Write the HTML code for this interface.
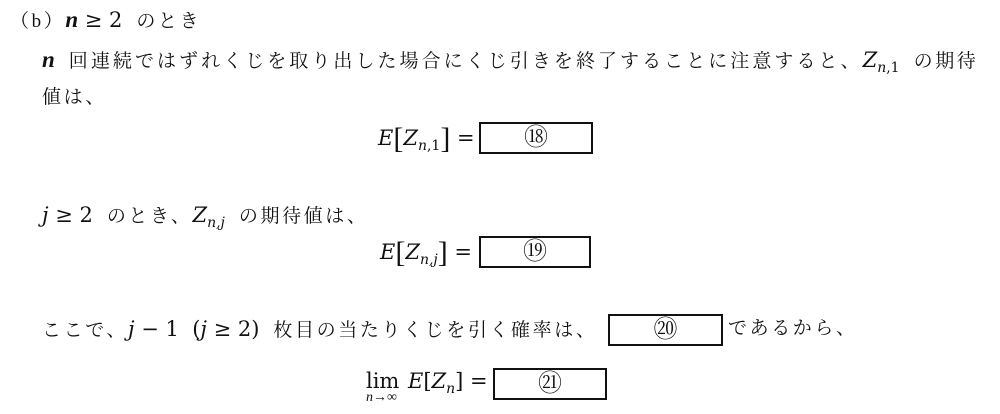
<!DOCTYPE html>
<html><head><meta charset="utf-8"><style>
body{margin:0;width:1000px;height:414px;background:#fff;position:relative;overflow:hidden;font-family:"Liberation Serif","Noto Serif CJK JP","Noto Serif CJK SC",serif;color:#111;font-size:19px;}
.t{position:absolute;white-space:nowrap;line-height:24px;}
.j{letter-spacing:2.6px;}
.m{font-size:21px;font-family:"DejaVu Serif","Liberation Serif",serif;}
.nb{font-family:"Liberation Serif",serif;font-size:23px;font-weight:bold;font-style:italic;}
i{font-style:italic;}
sub{font-size:14px;vertical-align:-5px;line-height:0;}
.s{display:inline-block;width:14px;}
.box{position:absolute;border:2px solid #111;box-sizing:border-box;text-align:center;font-size:24px;line-height:28px;font-family:"Liberation Serif","Noto Serif CJK JP",serif;}
.br{font-size:30px;vertical-align:-3px;font-family:"Liberation Serif",serif;}
</style></head><body>
<div class="t" style="left:10px;top:8px"><span class="j">（b）</span><span class="nb">n</span><span class="m"> ≥ 2</span><span class="s"></span><span class="j">のとき</span></div>
<div class="t" style="left:42px;top:48px"><span class="nb">n</span><span class="s"></span><span class="j" style="letter-spacing:3.05px">回連続ではずれくじを取り出した場合にくじ引きを終了することに注意すると、</span><span class="m"><i>Z</i><sub><i>n</i>,1</sub></span><span class="s"></span><span class="j">の期待</span></div>
<div class="t" style="left:42px;top:86px"><span class="j">値は、</span></div>
<div class="t m" style="left:378px;top:126px"><i>E</i><span class="br">[</span><i>Z</i><sub><i>n</i>,1</sub><span class="br">]</span> =</div>
<div class="box" style="left:479px;top:122px;width:114px;height:32px">⑱</div>
<div class="t" style="left:42px;top:203px"><span class="m"><i>j</i> ≥ 2</span><span class="s"></span><span class="j">のとき、</span><span class="m"><i>Z</i><sub><i>n,j</i></sub></span><span class="s"></span><span class="j">の期待値は、</span></div>
<div class="t m" style="left:380px;top:240px"><i>E</i><span class="br">[</span><i>Z</i><sub><i>n,j</i></sub><span class="br">]</span> =</div>
<div class="box" style="left:479px;top:236px;width:112px;height:32px">⑲</div>
<div class="t" style="left:42px;top:317px"><span class="j">ここで、</span><span class="m"><i>j</i> − 1 &nbsp;(<i>j</i> ≥ 2)</span><span class="s"></span><span class="j">枚目の当たりくじを引く確率は、</span></div>
<div class="box" style="left:608px;top:314px;width:115px;height:32px">⑳</div>
<div class="t" style="left:728px;top:317px"><span class="j">であるから、</span></div>
<div class="t m" style="left:366px;top:369px">lim</div>
<div class="t" style="left:366px;top:390px;font-size:14px;line-height:16px"><i>n</i>→∞</div>
<div class="t m" style="left:408px;top:369px"><i>E</i>[<i>Z</i><sub><i>n</i></sub>] =</div>
<div class="box" style="left:493px;top:368px;width:114px;height:32px">㉑</div>
</body></html>
